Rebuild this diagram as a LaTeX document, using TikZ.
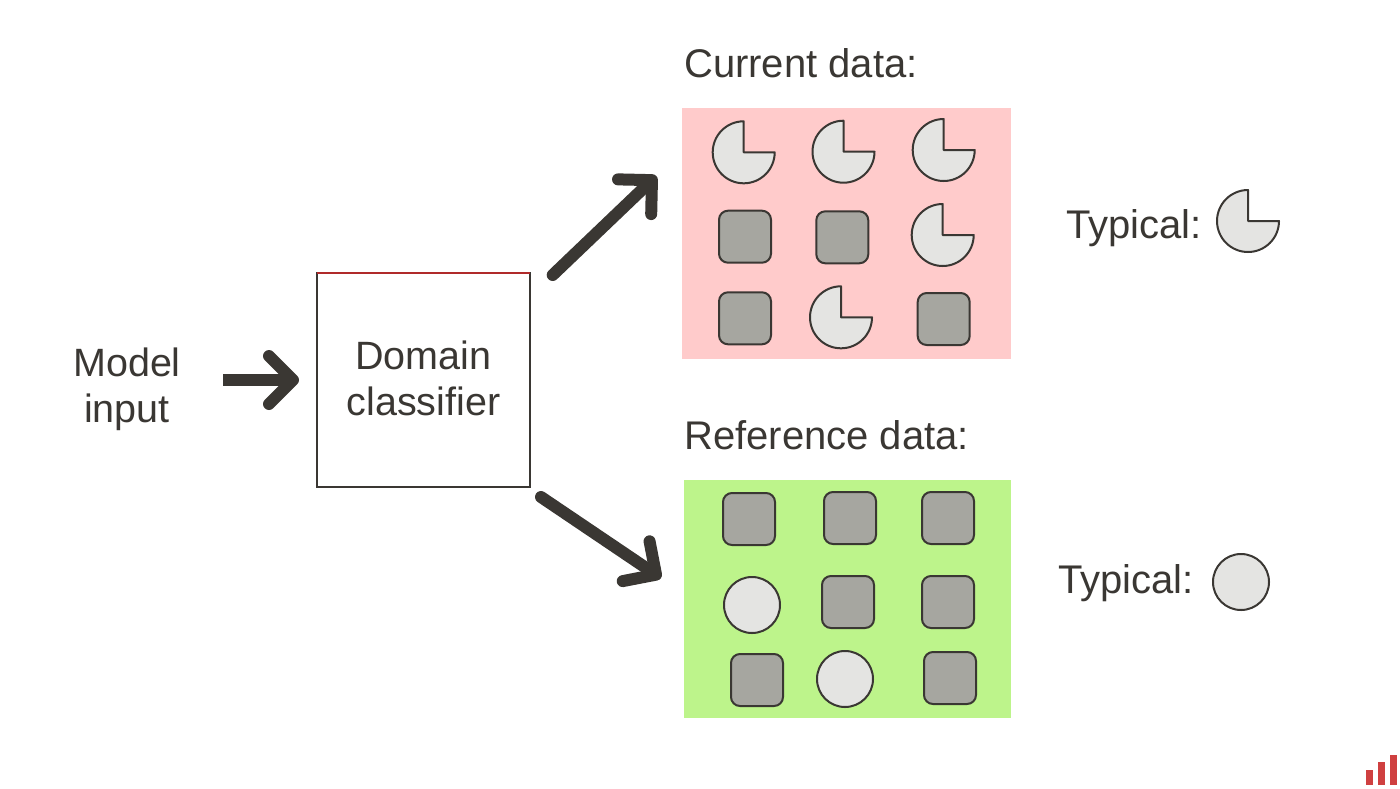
\documentclass[tikz,border=0pt]{standalone}
\usepackage{fontspec}
\setmainfont{Liberation Sans}
\usetikzlibrary{arrows.meta}
\definecolor{ink}{HTML}{3A3733}
\definecolor{pinkbg}{HTML}{FFCBCB}
\definecolor{greenbg}{HTML}{BDF48B}
\definecolor{lightshape}{HTML}{E4E4E2}
\definecolor{darkshape}{HTML}{A6A6A0}
\definecolor{logored}{HTML}{CF4040}
\definecolor{boxred}{HTML}{B02A2A}
\pgfdeclarearrow{
  name=Chev,
  setup code={
    \pgfarrowssettipend{6pt}
    \pgfarrowssetbackend{-30pt}
    \pgfarrowssetlineend{-2pt}
    \pgfarrowssetvisualbackend{-2pt}
  },
  drawing code={
    \pgfsetdash{}{0pt}
    \pgfsetlinewidth{12pt}
    \pgfsetroundcap
    \pgfsetroundjoin
    \pgfpathmoveto{\pgfpoint{-24pt}{24pt}}
    \pgfpathlineto{\pgfpointorigin}
    \pgfpathlineto{\pgfpoint{-24pt}{-24pt}}
    \pgfusepathqstroke
  }
}
\newcommand{\liftline}[1]{\raisebox{1pt}[\dimexpr\height-1pt][\dimexpr\depth+1pt]{#1}}
\tikzset{
  x=1pt,y=-1pt,
  label text/.style={text=ink,font=\fontsize{39.5}{46}\selectfont,align=center,inner sep=0pt},
  head text/.style={text=ink,font=\fontsize{40}{46}\selectfont,anchor=west,inner sep=0pt},
  sq/.style={draw=ink,fill=darkshape,line width=2pt,rounded corners=9pt,minimum size=52pt,inner sep=0pt},
  circ/.style={draw=ink,fill=lightshape,line width=2pt,circle,minimum size=#1,inner sep=0pt},
  circ/.default=56pt,
  bigarrow/.style={draw=ink,line width=12pt,line cap=round,-{Chev}},
  pieshape/.style={draw=ink,fill=lightshape,line width=2pt,line join=round},
}
\newcommand{\pieat}[2]{\draw[pieshape] (#1,#2) -- (#1,#2-31) arc[start angle=-90,end angle=-360,x radius=31pt,y radius=-31pt] -- cycle;}
\begin{document}
\begin{tikzpicture}
\useasboundingbox (0,0) rectangle (1400,788);
% panels
\fill[pinkbg] (682,108) rectangle (1011,359);
\fill[greenbg] (684,480) rectangle (1011,718);
% box
\node[draw=ink,line width=1.1pt,minimum width=213pt,minimum height=214pt,inner sep=0pt,outer sep=0pt,label text] (box) at (423.5,380) {\liftline{Domain}\\\liftline{classifier}};
\draw[boxred,line width=1.1pt] (box.north west) -- (box.north east);
\node[label text] (model) at (127,389) {Model\\input};
% pies
\pieat{743.7}{152.3}
\pieat{843.5}{151.7}
\pieat{943.7}{150}
\pieat{942.7}{235}
\pieat{841}{317.3}
\pieat{1248}{221}
% pink squares
\node[sq] (p1) at (745,236.7) {};
\node[sq] (p2) at (842.3,237.3) {};
\node[sq] (p3) at (745,318.3) {};
\node[sq] (p4) at (943.7,319) {};
% green squares
\node[sq] (g1) at (749,519) {};
\node[sq] (g2) at (850,518) {};
\node[sq] (g3) at (948,518) {};
\node[sq] (g4) at (848,602) {};
\node[sq] (g5) at (948,602) {};
\node[sq] (g6) at (757,680) {};
\node[sq] (g7) at (950,678) {};
\node[circ] (c1) at (752,605) {};
\node[circ] (c2) at (845,679) {};
\node[circ] (c3) at (1241,582) {};
% labels
\node[head text] (cur) at (684,63) {Current data:};
\node[head text] (ref) at (684,435) {Reference data:};
\node[head text] (t1) at (1066,228) {Typical:};
\node[head text] (t2) at (1058,583) {Typical:};
% connectors
\coordinate (a1) at (223,380);
\coordinate (a2) at (299,380);
\coordinate (b1) at (552.7,275);
\coordinate (b2) at (656.3,176);
\coordinate (d1) at (541,497);
\coordinate (d2) at (661,578);
\draw[bigarrow,line cap=butt] (a1) -- (a2);
\draw[bigarrow] (b1) -- (b2);
\draw[bigarrow] (d1) -- (d2);
% logo
\fill[logored] (1366,770) rectangle (1373,785);
\fill[logored] (1378,762) rectangle (1385,785);
\fill[logored] (1390,755) rectangle (1397,785);
\end{tikzpicture}
\end{document}
